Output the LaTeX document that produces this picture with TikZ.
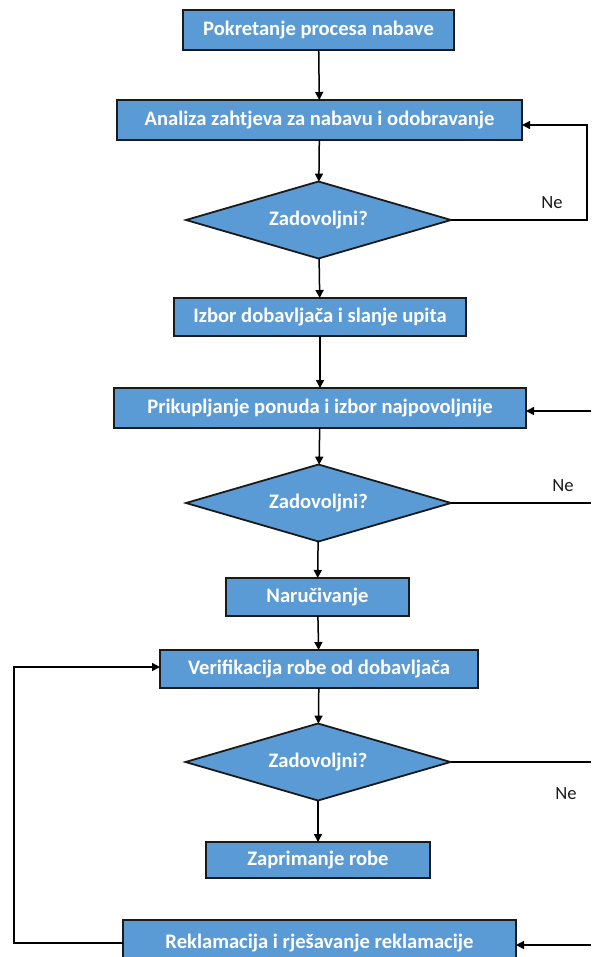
\documentclass[tikz,border=0pt]{standalone}
\usepackage{fontspec}
\setmainfont{Carlito}
\usetikzlibrary{shapes.geometric, arrows.meta}
\definecolor{boxBlue}{HTML}{5B9BD5}
\definecolor{lineGray}{HTML}{1A1A1A}
\tikzset{
  nodeAll/.style={draw=lineGray, line width=0.9pt, fill=boxBlue, text=white, font=\fontsize{10.3}{12}\selectfont\bfseries, inner sep=0pt, outer sep=0pt},
  nodeBox/.style={rectangle, minimum height=20pt},
  nodeDec/.style={diamond, aspect=3.44, minimum width=132.5pt, minimum height=38.5pt},
  nodeNe/.style={text=lineGray, font=\fontsize{9.3}{11}\selectfont, inner sep=0pt},
  arrowLine/.style={draw=black, line width=0.75pt, -{Triangle[length=4pt, width=4pt]}},
  plainLine/.style={draw=black, line width=0.75pt}
}

\begin{document}
\begin{tikzpicture}[x=0.5pt, y=-0.5pt]
  \useasboundingbox (0,0) rectangle (591,957);

  \node[nodeAll, nodeBox, minimum width=135.5pt] (P1) at (318.5,30) {Pokretanje procesa nabave};
  \node[nodeAll, nodeBox, minimum width=202.5pt] (P2) at (319.5,120) {Analiza zahtjeva za nabavu i odobravanje};
  \node[nodeAll, nodeDec] (D1) at (318.5,220) {Zadovoljni?};
  \node[nodeAll, nodeBox, minimum width=146pt, minimum height=19pt] (P3) at (320,317) {Izbor dobavljača i slanje upita};
  \node[nodeAll, nodeBox, minimum width=206pt] (P4) at (320,408) {Prikupljanje ponuda i izbor najpovoljnije};
  \node[nodeAll, nodeDec] (D2) at (318.5,503) {Zadovoljni?};
  \node[nodeAll, nodeBox, minimum width=91.5pt, minimum height=19pt] (P5) at (317.5,597) {Naručivanje};
  \node[nodeAll, nodeBox, minimum width=159pt, minimum height=19pt] (P6) at (319,669) {Verifikacija robe od dobavljača};
  \node[nodeAll, nodeDec] (D3) at (318,762) {Zadovoljni?};
  \node[nodeAll, nodeBox, minimum width=112pt, minimum height=18pt] (P7) at (318,860) {Zaprimanje robe};
  \node[nodeAll, nodeBox, minimum width=196.5pt, minimum height=23pt] (P8) at (319.5,943) {Reklamacija i rješavanje reklamacije};

  \node[nodeNe] (N1) at (552,203) {Ne};
  \node[nodeNe] (N2) at (563,486) {Ne};
  \node[nodeNe] (N3) at (566,794) {Ne};

  \coordinate (R1) at (587,125);
  \coordinate (E2a) at (591,505);
  \coordinate (E2b) at (591,411);
  \coordinate (E3a) at (591,762);
  \coordinate (E3b) at (591,945);
  \coordinate (L1) at (14,943);
  \coordinate (L2) at (14,667);

  \path[arrowLine]
    (P1) edge (P2)
    (P2) edge (D1)
    (D1) edge (P3)
    (P3) edge (P4)
    (P4) edge (D2)
    (D2) edge (P5)
    (P5) edge (P6)
    (P6) edge (D3)
    (D3) edge (P7);

  % Ne loops
  \draw[arrowLine] (D1.east) -| (R1) -- (R1 -| P2.east);
  \draw[plainLine] (D2.east) -- (E2a |- D2.east);
  \draw[arrowLine] (E2b) -- (E2b -| P4.east);
  \draw[plainLine] (D3.east) -- (E3a);
  \draw[arrowLine] (E3b) -- (E3b -| P8.east);
  \draw[arrowLine] (L1 -| P8.west) -- (L1) -- (L2) -- (L2 -| P6.west);
\end{tikzpicture}
\end{document}
